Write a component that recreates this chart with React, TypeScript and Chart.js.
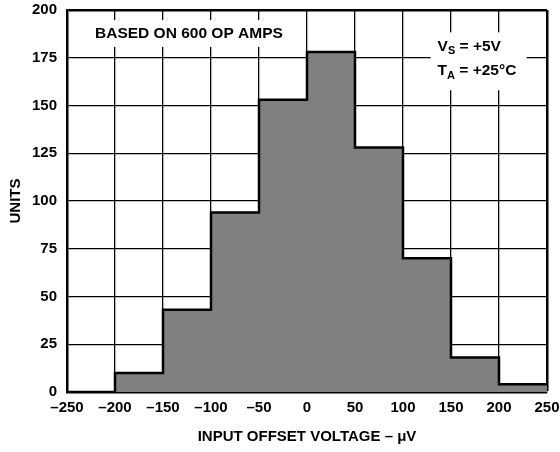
import React, { useEffect, useRef } from "react";
import { Chart, registerables } from "chart.js";

Chart.register(...registerables);

const binStarts = [-250, -200, -150, -100, -50, 0, 50, 100, 150, 200];
const binEnd = 250;
const counts = [0, 10, 43, 94, 153, 178, 128, 70, 18, 4];
const xTitle = "INPUT OFFSET VOLTAGE – μV";
const yTitle = "UNITS";
const noteLeft = "BASED ON 600 OP AMPS";

const FONT = "'Liberation Sans', Arial, Helvetica, sans-serif";

export default function App() {
  const ref = useRef<HTMLCanvasElement>(null);

  useEffect(() => {
    const canvas = ref.current;
    if (!canvas) return;

    const points = binStarts.map((x, i) => ({ x, y: counts[i] }));
    points.push({ x: binEnd, y: counts[counts.length - 1] });

    const annot = {
      id: "annot",
      afterDraw(chart: any) {
        const ctx = chart.ctx;
        const xs = chart.scales.x;
        const ys = chart.scales.y;
        ctx.save();
        ctx.font = `bold 15.5px ${FONT}`;
        const cx = xs.getPixelForValue(-123);
        const cy = ys.getPixelForValue(188);
        const w = ctx.measureText(noteLeft).width;
        ctx.fillStyle = "#fff";
        ctx.fillRect(cx - w / 2 - 6, cy - 13, w + 12, 27);
        ctx.fillStyle = "#000";
        ctx.textAlign = "center";
        ctx.textBaseline = "middle";
        ctx.fillText(noteLeft, cx, cy + 1);

        const lx = xs.getPixelForValue(136);
        const y1 = ys.getPixelForValue(181);
        const y2 = ys.getPixelForValue(168);
        ctx.fillStyle = "#fff";
        ctx.fillRect(lx - 7, y1 - 14, 96, 58);
        ctx.fillStyle = "#000";
        ctx.textAlign = "left";
        ctx.textBaseline = "middle";
        const drawSub = (main: string, sub: string, rest: string, y: number) => {
          let x = lx;
          ctx.font = `bold 15.5px ${FONT}`;
          ctx.fillText(main, x, y);
          x += ctx.measureText(main).width;
          ctx.font = `bold 11px ${FONT}`;
          ctx.fillText(sub, x, y + 5);
          x += ctx.measureText(sub).width;
          ctx.font = `bold 15.5px ${FONT}`;
          ctx.fillText(rest, x, y);
        };
        drawSub("V", "S", " = +5V", y1);
        drawSub("T", "A", " = +25°C", y2);
        ctx.restore();
      },
    };

    const chart = new Chart(canvas, {
      type: "line",
      data: {
        datasets: [
          {
            data: points,
            stepped: "before",
            fill: "origin",
            backgroundColor: "#808080",
            borderColor: "#000",
            borderWidth: 2.5,
            pointRadius: 0,
          },
        ],
      },
      options: {
        animation: false,
        responsive: false,
        maintainAspectRatio: false,
        layout: { padding: { top: 10, right: 13, left: 0, bottom: 0 } },
        plugins: {
          legend: { display: false },
          tooltip: { enabled: false },
        },
        scales: {
          x: {
            type: "linear",
            z: 1,
            min: -250,
            max: 250,
            afterFit: (s: any) => {
              s.height = 60;
              s.paddingLeft = 0;
              s.paddingRight = 0;
            },
            ticks: {
              stepSize: 50,
              padding: 7,
              maxRotation: 0,
              color: "#000",
              font: { family: FONT, size: 15, weight: "bold" },
              callback: (v: any) => (v < 0 ? "–" + Math.abs(v) : String(v)),
            },
            grid: {
              color: "#000",
              lineWidth: (c: any) => (c.tick && c.tick.value === 250 ? 2.5 : 1.3),
              drawTicks: false,
            },
            border: { display: true, color: "#000", width: 2.5 },
            title: {
              display: true,
              text: xTitle,
              color: "#000",
              font: { family: FONT, size: 15, weight: "bold" },
              padding: { top: 0, bottom: 6 },
            },
          },
          y: {
            type: "linear",
            z: 1,
            min: 0,
            max: 200,
            afterFit: (s: any) => {
              s.width = 67;
              s.paddingTop = 0;
              s.paddingBottom = 0;
            },
            ticks: {
              stepSize: 25,
              padding: 10,
              color: "#000",
              font: { family: FONT, size: 15, weight: "bold" },
            },
            grid: {
              color: "#000",
              lineWidth: (c: any) => (c.tick && c.tick.value === 200 ? 2.5 : 1.3),
              drawTicks: false,
            },
            border: { display: true, color: "#000", width: 2.5 },
            title: {
              display: true,
              text: yTitle,
              color: "#000",
              font: { family: FONT, size: 15, weight: "bold" },
              padding: { top: 7, bottom: 0 },
            },
          },
        },
      },
      plugins: [annot],
    });

    return () => chart.destroy();
  }, []);

  return (
    <div style={{ position: "fixed", left: 0, top: 0, width: 560, height: 452, background: "#fff" }}>
      <canvas ref={ref} width={560} height={452} style={{ width: 560, height: 452 }} />
    </div>
  );
}
